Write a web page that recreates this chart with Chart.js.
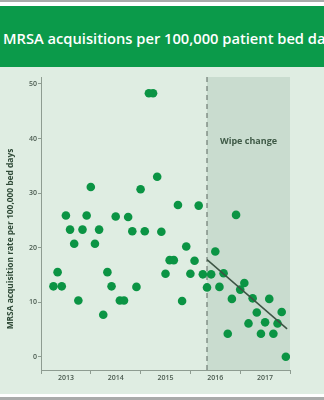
<!DOCTYPE html>
<html lang="en">
<head>
<meta charset="UTF-8">
<title>MRSA acquisitions per 100,000 patient bed days</title>
<style>
    body {
        margin: 0;
        width: 324px;
        height: 400px;
        background: #fff;
        position: relative;
        overflow: hidden;
        font-family: "Open Sans", Arial, sans-serif;
    }
    .line { position: absolute; left: 0; width: 324px; background: #a9abaa; }
    .banner {
        position: absolute;
        top: 6px; left: 0;
        width: 324px; height: 61px;
        background: #0b9a4a;
        color: #fff;
        white-space: nowrap;
        overflow: hidden;
    }
    .banner h1 {
        margin: 0;
        padding-left: 3px;
        font-size: 14.7px;
        font-weight: 600;
        line-height: 65px;
    }
    .panel {
        position: absolute;
        top: 67px; left: 0;
        width: 324px; height: 327px;
        background: #dfede2;
    }
</style>
<script src="https://cdn.jsdelivr.net/npm/chart.js"></script>
</head>
<body>

<div class="line" style="top:0;height:2px"></div>
<div class="banner"><h1>MRSA acquisitions per 100,000 patient bed days</h1></div>
<div class="panel"><canvas id="grafico" width="324" height="327"></canvas></div>
<div class="line" style="top:397px;height:3px"></div>

<script>
// months counted from January 2013, first reading is April 2013
const startMonth = 3;
const rates = [
    12.9, 15.5, 12.9, 25.9, 23.3, 20.7, 10.3, 23.3, 25.9,
    31.1, 20.7, 23.3, 7.7, 15.5, 12.9, 25.7, 10.3, 10.3, 25.6, 23.0, 12.8,
    30.7, 23.0, 48.3, 48.3, 33.0, 22.9, 15.2, 17.7, 17.7, 27.8, 10.2, 20.2,
    15.2, 17.6, 27.7, 15.1, 12.7, 15.1, 19.3, 12.8, 15.3, 4.2, 10.6, 26.0,
    12.3, 13.5, 6.1, 10.7, 8.1, 4.2, 6.3, 10.6, 4.2, 6.1, 8.2, 0
];
const yearLabels = ['2013', '2014', '2015', '2016', '2017'];
const xTicks = [0, 6, 12, 18, 24, 30, 36, 42, 48, 54, 60];
const yTicks = [0, 10, 20, 30, 40, 50];
const wipeStart = 40;          // May 2016
const trendMonths = [40, 59.3];
const trendRates = [17.8, 5.1];
const yTitle = 'MRSA acquisition rate per 100,000 bed days';
const wipeLabel = 'Wipe change';

const puntos = rates.map((v, i) => ({ x: startMonth + i, y: v }));
const tendencia = trendMonths.map((m, i) => ({ x: m, y: trendRates[i] }));

// shaded period, dashed divider and labels
const extras = {
    id: 'extras',
    beforeDatasetsDraw(chart) {
        const { ctx, chartArea, scales } = chart;
        const x0 = scales.x.getPixelForValue(wipeStart);
        ctx.save();
        ctx.fillStyle = '#c9dccf';
        ctx.fillRect(x0, chartArea.top, chartArea.right - x0, chartArea.bottom - chartArea.top);
        ctx.strokeStyle = '#6f7b72';
        ctx.lineWidth = 1.2;
        ctx.setLineDash([5, 4]);
        ctx.beginPath();
        ctx.moveTo(x0, chartArea.top);
        ctx.lineTo(x0, chartArea.bottom + 4);
        ctx.stroke();
        ctx.setLineDash([]);
        ctx.fillStyle = '#3f5a47';
        ctx.font = '700 9px "Open Sans"';
        ctx.textAlign = 'center';
        ctx.textBaseline = 'middle';
        ctx.fillText(wipeLabel, (x0 + chartArea.right) / 2, scales.y.getPixelForValue(39.5));
        ctx.restore();
    },
    afterDraw(chart) {
        const { ctx } = chart;
        ctx.save();
        ctx.translate(10.5, 172);
        ctx.rotate(-Math.PI / 2);
        ctx.fillStyle = '#2f4a37';
        ctx.font = '700 8.4px "Open Sans"';
        ctx.textAlign = 'center';
        ctx.textBaseline = 'middle';
        ctx.fillText(yTitle, 0, 0);
        ctx.restore();
    }
};

const ctx = document.getElementById('grafico').getContext('2d');
new Chart(ctx, {
    type: 'scatter',
    data: {
        datasets: [{
            type: 'line',
            data: tendencia,
            borderColor: '#3d5444',
            borderWidth: 1.5,
            pointRadius: 0,
            fill: false
        }, {
            data: puntos,
            backgroundColor: '#0b9444',
            borderWidth: 0,
            pointRadius: 4.3
        }]
    },
    options: {
        responsive: false,
        animation: false,
        events: [],
        layout: { padding: { top: 10, right: 34, left: 0, bottom: 0 } },
        plugins: { legend: { display: false }, tooltip: { enabled: false } },
        scales: {
            x: {
                type: 'linear',
                min: 0,
                max: 60,
                afterFit: s => { s.height = 24; },
                afterBuildTicks: s => { s.ticks = xTicks.map(v => ({ value: v })); },
                border: { color: '#8e9c91', width: 1 },
                grid: {
                    drawOnChartArea: false,
                    tickLength: 4,
                    tickColor: c => (c.tick && c.tick.value % 12 === 0) ? '#8e9c91' : 'rgba(0,0,0,0)'
                },
                ticks: {
                    autoSkip: false,
                    maxRotation: 0,
                    padding: 0,
                    color: '#4b5b50',
                    font: { family: 'Open Sans', size: 7, weight: '600' },
                    callback: v => v % 12 === 6 ? yearLabels[(v - 6) / 12] : ''
                }
            },
            y: {
                min: -2.44,
                max: 51.28,
                afterFit: s => { s.width = 41; },
                afterBuildTicks: s => { s.ticks = yTicks.map(v => ({ value: v })); },
                border: { color: '#8e9c91', width: 1 },
                grid: { drawOnChartArea: false, tickLength: 3, tickColor: '#8e9c91' },
                ticks: {
                    padding: 1,
                    color: '#4b5b50',
                    font: { family: 'Open Sans', size: 7, weight: '600' }
                }
            }
        }
    },
    plugins: [extras]
});
</script>

</body>
</html>
